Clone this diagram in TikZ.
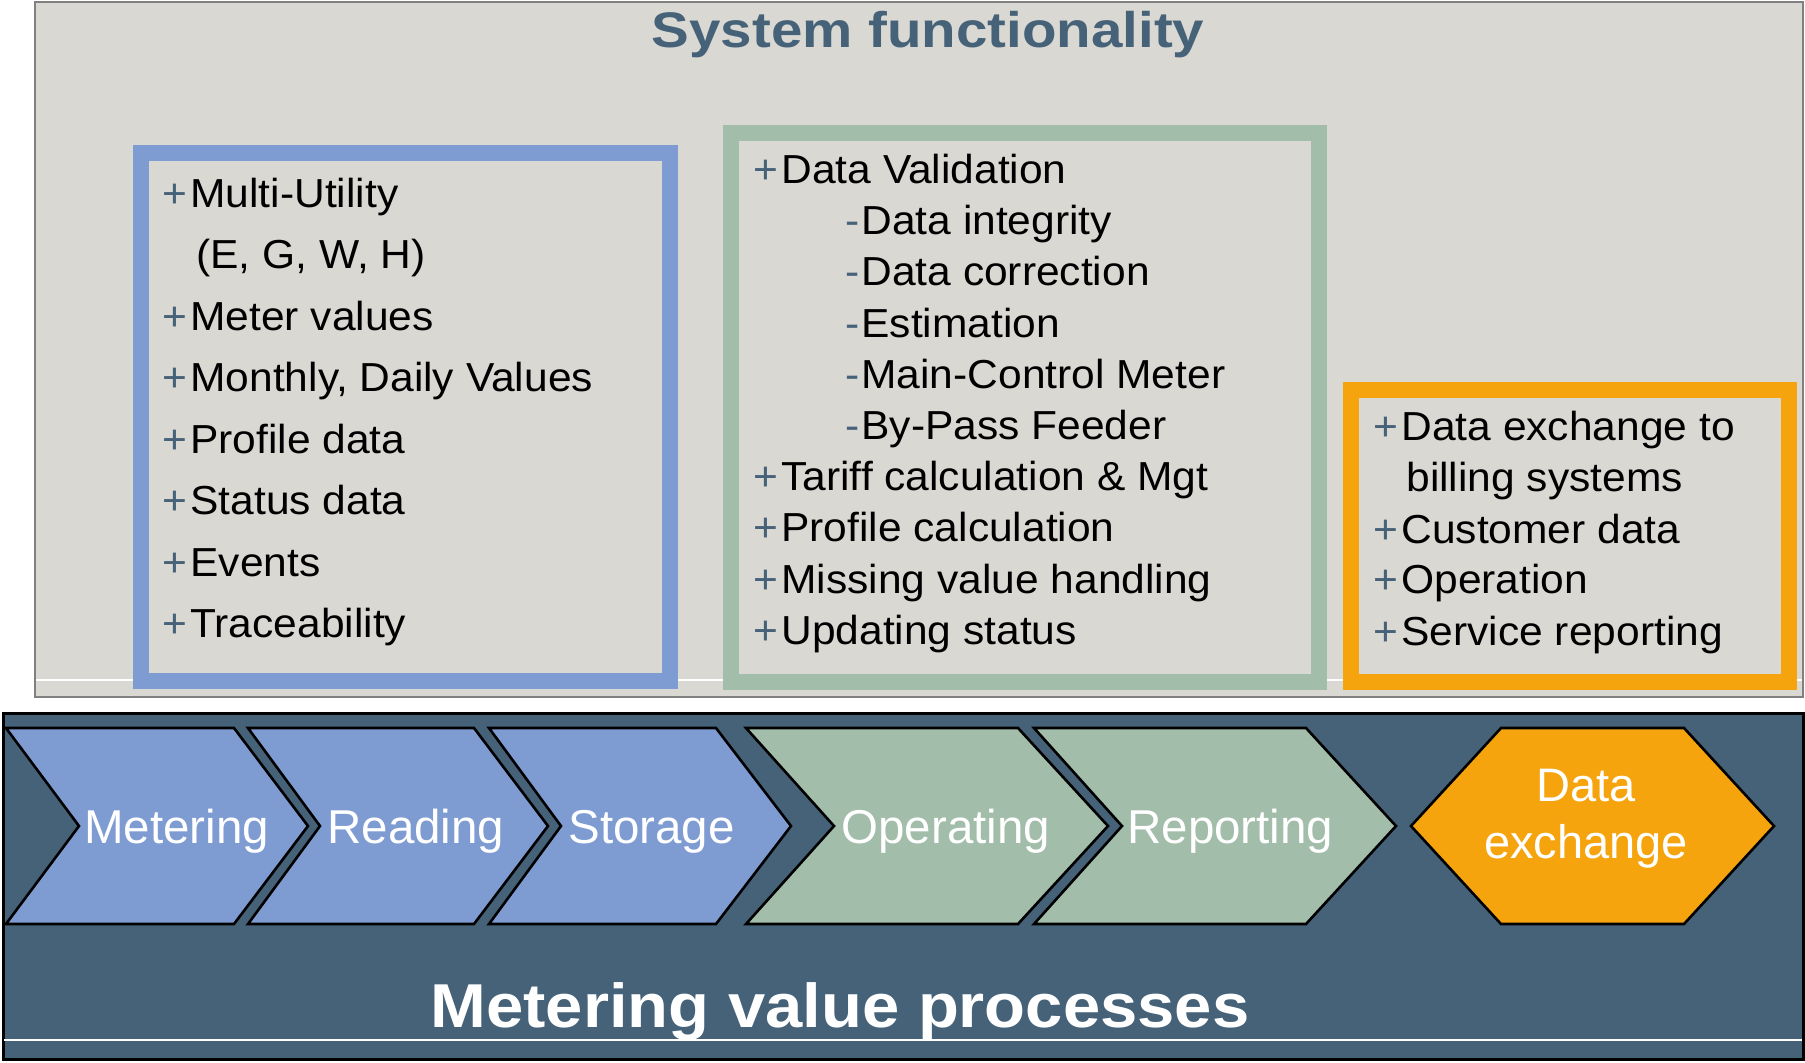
\documentclass[tikz,border=0pt]{standalone}
\usepackage{fontspec}
\setmainfont{Liberation Sans}
\newfontfamily\bodyfont[FakeStretch=1.05]{Liberation Sans}
\newfontfamily\headfont[FakeStretch=1.13,UprightFont=* Bold]{Liberation Sans}
\newfontfamily\footheadfont[FakeStretch=1.08,UprightFont=* Bold]{Liberation Sans}
\definecolor{slate}{RGB}{70,98,121}
\definecolor{panelbg}{RGB}{218,216,210}
\definecolor{panelline}{RGB}{128,128,128}
\definecolor{blueb}{RGB}{127,156,210}
\definecolor{greenb}{RGB}{163,189,171}
\definecolor{orangeb}{RGB}{245,164,14}
\newcommand\pmark{\llap{\textcolor{slate}{+}\hspace{1.5pt}}}
\newcommand\dmark{\llap{\textcolor{slate}{-}\hspace{1pt}}}
\begin{document}
\begin{tikzpicture}[x=0.5pt,y=-0.5pt,
  item/.style={anchor=base west, inner sep=0pt, text=black,
    font=\bodyfont\fontsize{20.25pt}{22pt}\selectfont},
  framebox/.style={line width=7.9pt},
  chev/.style={line width=1.3pt, draw=black, line join=miter},
  chevlabel/.style={anchor=base west, inner sep=0pt, text=white,
    font=\fontsize{23.75pt}{25pt}\selectfont},
  hexlabel/.style={anchor=base, inner sep=0pt, text=white,
    font=\fontsize{23.5pt}{25pt}\selectfont}]
\useasboundingbox (0,0) rectangle (1805,1062);
\fill[white] (0,0) rectangle (1805,1062);
% top panel
\filldraw[fill=panelbg, draw=panelline, line width=1.3pt] (35,2) rectangle (1803,697);
\draw[white, line width=0.8pt] (36,680) -- (1802,680);
\node[anchor=base, inner sep=0pt, text=slate, font=\headfont\fontsize{25pt}{27pt}\selectfont]
  (title) at (928,47) {System functionality};
% boxes
\draw[framebox, draw=blueb] (140.75,152.75) rectangle (670.25,681.25);
\draw[framebox, draw=greenb] (731,133) rectangle (1319,682);
\draw[framebox, draw=orangeb] (1351,390) rectangle (1789,682);
% blue box text
\node[item] (b1) at (190,207) {\pmark Multi-Utility};
\node[item] (b2) at (196,268) {(E, G, W, H)};
\node[item] (b3) at (190,330) {\pmark Meter values};
\node[item] (b4) at (190,391) {\pmark Monthly, Daily Values};
\node[item] (b5) at (190,453) {\pmark Profile data};
\node[item] (b6) at (190,514) {\pmark Status data};
\node[item] (b7) at (190,576) {\pmark Events};
\node[item] (b8) at (190,637) {\pmark Traceability};
% green box text
\node[item] (g1) at (781,183) {\pmark Data Validation};
\node[item] (g2) at (861,234) {\dmark Data integrity};
\node[item] (g3) at (861,285.5) {\dmark Data correction};
\node[item] (g4) at (861,337) {\dmark Estimation};
\node[item] (g5) at (861,388) {\dmark Main-Control Meter};
\node[item] (g6) at (861,439) {\dmark By-Pass Feeder};
\node[item] (g7) at (781,490) {\pmark Tariff calculation \& Mgt};
\node[item] (g8) at (781,541.5) {\pmark Profile calculation};
\node[item] (g9) at (781,593) {\pmark Missing value handling};
\node[item] (g10) at (781,644) {\pmark Updating status};
% orange box text
\node[item] (o1) at (1401,440) {\pmark Data exchange to};
\node[item] (o2) at (1406,491) {billing systems};
\node[item] (o3) at (1401,543) {\pmark Customer data};
\node[item] (o4) at (1401,593) {\pmark Operation};
\node[item] (o5) at (1401,645) {\pmark Service reporting};
% bottom panel
\filldraw[fill=slate, draw=black, line width=1.5pt] (3,713) rectangle (1803,1059);
\draw[white, line width=0.8pt] (4,1040) -- (1802,1040);
% chevrons
\filldraw[chev, fill=blueb] (6,728) -- (234,728) -- (308,826) -- (234,924) -- (6,924) -- (79,826) -- cycle;
\filldraw[chev, fill=blueb] (248,728) -- (474,728) -- (548,826) -- (474,924) -- (248,924) -- (320,826) -- cycle;
\filldraw[chev, fill=blueb] (489,728) -- (716,728) -- (791,826) -- (716,924) -- (489,924) -- (561,826) -- cycle;
\filldraw[chev, fill=greenb] (746,728) -- (1018,728) -- (1108,826) -- (1018,924) -- (746,924) -- (834,826) -- cycle;
\filldraw[chev, fill=greenb] (1034,728) -- (1306,728) -- (1396,826) -- (1306,924) -- (1034,924) -- (1122,826) -- cycle;
\filldraw[chev, fill=orangeb] (1411,826) -- (1501,728) -- (1684,728) -- (1774,826) -- (1684,924) -- (1501,924) -- cycle;
\node[chevlabel] (c1) at (84,843) {Metering};
\node[chevlabel] (c2) at (327,843) {Reading};
\node[chevlabel] (c3) at (568,843) {Storage};
\node[chevlabel] (c4) at (841,843) {Operating};
\node[chevlabel] (c5) at (1127,843) {Reporting};
\node[hexlabel] (d1) at (1586,801) {Data};
\node[hexlabel] (d2) at (1586,858) {exchange};
\node[anchor=base, inner sep=0pt, text=white, font=\footheadfont\fontsize{31pt}{33pt}\selectfont]
  (foot) at (840,1027) {Metering value processes};
\end{tikzpicture}
\end{document}
